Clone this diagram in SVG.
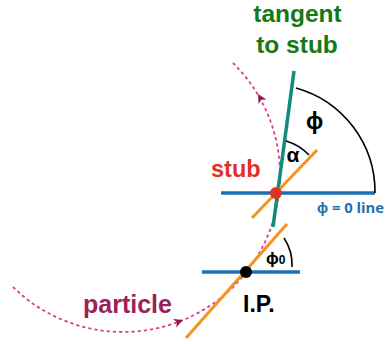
<svg xmlns="http://www.w3.org/2000/svg" width="388" height="344" viewBox="0 0 388 344">
<defs>
<style>
.lbl{font-family:"Liberation Sans",Arial,sans-serif;font-weight:bold}
.teal{stroke:#138a7c;stroke-width:3.5;stroke-linecap:butt;fill:none}
.orange{stroke:#f5931e;stroke-width:3;fill:none}
.blue{stroke:#1d70b0;stroke-width:3.5;fill:none}
.angle{stroke:#000;stroke-width:1.6;fill:none}
.traj{stroke:#dc3d91;stroke-width:1.8;stroke-dasharray:3.2 3;fill:none}
</style>
<path id="arrowhead" d="M0,0 L-9,-4.5 L-6.5,0 L-9,4.5 Z" fill="#8e1a55"/>
</defs>
<rect width="388" height="344" fill="#fff"/>
<g id="connectors">
<path id="particle-track" class="traj" d="M13,287 A157,157 0 0 0 280,175 A157,157 0 0 0 233,63"/>
<use href="#arrowhead" transform="translate(183,320) rotate(-21)"/>
<use href="#arrowhead" transform="translate(258,94) rotate(-120)"/>
<line id="tangent-line" class="teal" x1="294" y1="71" x2="273" y2="227"/>
<line id="phi0-line-stub" class="blue" x1="221" y1="193" x2="375" y2="193"/>
<line id="stub-line" class="orange" x1="317" y1="150" x2="252" y2="218"/>
<line id="phi0-line-ip" class="blue" x1="202" y1="272" x2="300" y2="272"/>
<line id="ip-line" class="orange" x1="287" y1="224" x2="186" y2="338"/>
<path id="arc-phi" class="angle" d="M296,88 A108,108 0 0 1 375,193"/>
<path id="arc-alpha" class="angle" d="M286,141 A52,52 0 0 1 309,155"/>
<path id="arc-phi0" class="angle" d="M284,238 A48,48 0 0 1 292,267"/>
</g>
<g id="stub">
<circle cx="276" cy="193" r="6" fill="#e03125"/>
<text class="lbl" x="211" y="177" font-size="23.5" fill="#e03125">stub</text>
</g>
<g id="ip">
<circle cx="246" cy="272" r="6" fill="#000"/>
<text class="lbl" x="243" y="312" font-size="23" fill="#000">I.P.</text>
</g>
<g id="tangent-label">
<text class="lbl" x="297.5" y="22" font-size="24.5" fill="#157a15" text-anchor="middle">tangent</text>
<text class="lbl" x="297" y="53" font-size="24.5" fill="#157a15" text-anchor="middle">to stub</text>
</g>
<g id="particle-label">
<text class="lbl" x="83" y="313" font-size="25" fill="#9c1f5e">particle</text>
</g>
<g id="angle-labels">
<text class="lbl" x="314.5" y="129" font-size="23" fill="#000" text-anchor="middle">ϕ</text>
<text class="lbl" x="293" y="162" font-size="21" fill="#000" text-anchor="middle">α</text>
<text class="lbl" x="266" y="264" font-size="17" fill="#000">ϕ<tspan font-size="12">0</tspan></text>
</g>
<g id="phi0-label">
<text x="317" y="213" font-family="'Open Sans','Liberation Sans',sans-serif" font-weight="bold" font-size="14.8" fill="#1d70b0">ϕ = 0 line</text>
</g>
</svg>
